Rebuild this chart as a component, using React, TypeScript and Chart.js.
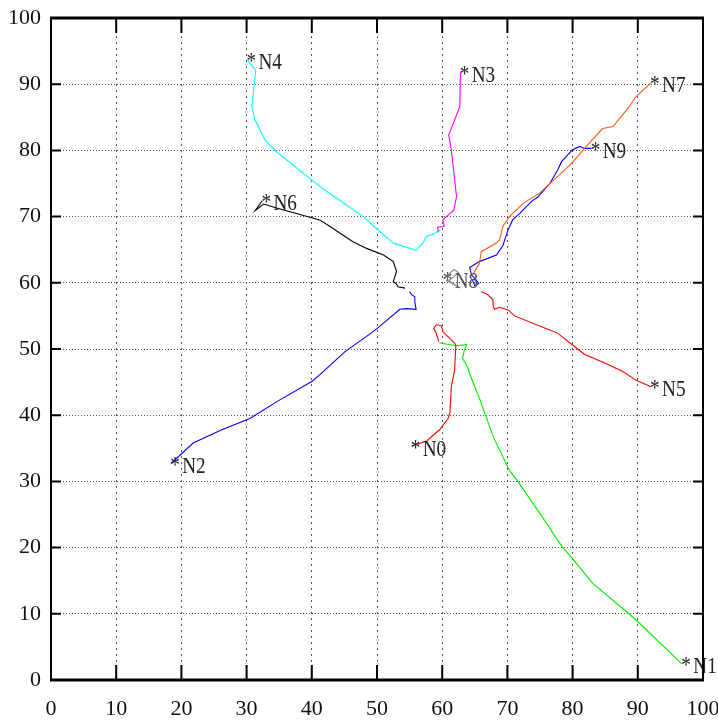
import React, { useEffect, useRef } from "react";
import { Chart, registerables } from "chart.js";

Chart.register(...registerables);

// Node names (label drawn at the first point of each track)
const nodeNames = ["N0", "N1", "N2", "N3", "N4", "N5", "N6", "N7", "N8", "N9"];
const nodeColors = ["#ff0000", "#00ee00", "#0000ff", "#ff00ff", "#00ffff", "#ff0000", "#000000", "#ff5a14", "#888888", "#0000ff"];
const labelColors = ["#222", "#222", "#222", "#222", "#222", "#222", "#222", "#222", "#555", "#222"];

const axisTicks = [0, 10, 20, 30, 40, 50, 60, 70, 80, 90, 100];

const N0 = [[55.3, 35.3], [57.6, 36.1], [59.6, 37.8], [60.9, 39.5], [61.2, 40.5], [61.4, 44.3], [61.9, 46.8], [62.1, 50.6], [61.7, 51.1], [60.1, 52.6], [59.9, 53.5], [59.1, 53.7], [58.7, 53.1], [59.0, 52.6], [59.5, 51.1]];
const N1 = [[96.8, 2.4], [89.7, 9.1], [83.1, 14.6], [79.5, 18.9], [78.5, 20.0], [77.5, 21.4], [76.2, 23.4], [71.6, 30.0], [70.3, 31.7], [67.8, 36.8], [66.0, 41.8], [64.2, 46.3], [63.9, 47.3], [63.1, 48.6], [63.4, 49.8], [63.8, 50.7], [62.2, 50.5], [59.6, 50.9]];
const N2 = [[18.4, 32.7], [21.8, 35.8], [26.2, 37.8], [30.5, 39.5], [34.9, 42.2], [40.0, 45.1], [41.2, 46.1], [45.1, 49.6], [48.4, 51.9], [49.9, 53.0], [51.0, 53.9], [53.5, 56.0], [54.5, 56.1], [56.0, 56.0], [55.8, 57.1], [55.8, 57.9], [55.3, 58.2], [55.0, 58.7]];
const N3 = [[62.8, 91.8], [62.7, 86.6], [61.0, 82.3], [61.4, 80.1], [62.2, 73.0], [61.8, 71.0], [60.1, 69.5], [60.3, 68.5], [59.3, 68.4], [59.4, 67.6]];
const N4 = [[30.1, 93.7], [31.4, 92.1], [30.8, 86.6], [31.3, 84.6], [32.8, 81.6], [34.6, 79.8], [40.0, 75.5], [42.3, 73.8], [47.9, 70.0], [49.9, 68.2], [52.5, 66.0], [56.0, 64.9], [57.1, 66.1], [57.6, 67.0], [58.9, 67.5], [59.7, 68.0]];
const N5 = [[92.0, 44.3], [89.7, 45.3], [87.7, 46.6], [85.1, 47.8], [81.8, 49.2], [80.0, 50.6], [77.7, 52.4], [75.9, 53.1], [71.1, 55.0], [70.1, 55.9], [68.8, 56.3], [68.0, 56.0], [67.8, 56.6], [67.8, 57.4], [67.0, 58.2], [66.0, 58.7]];
const N6 = [[32.4, 72.4], [31.3, 70.9], [32.6, 71.9], [34.6, 71.3], [41.2, 69.5], [42.8, 68.5], [46.3, 66.2], [48.4, 65.2], [51.0, 64.2], [52.5, 63.2], [53.0, 61.7], [52.5, 60.2], [53.0, 59.8], [53.2, 59.4], [54.3, 59.2]];
const N7 = [[92.0, 90.2], [89.7, 88.1], [88.7, 86.6], [86.2, 83.6], [84.6, 83.3], [82.1, 80.6], [79.8, 78.0], [74.9, 73.5], [72.4, 72.0], [70.3, 70.0], [69.3, 68.5], [68.8, 66.5], [68.3, 66.0], [66.0, 64.7], [65.7, 62.9], [65.0, 61.8], [64.7, 61.2]];
const N8 = [[60.2, 60.6], [61.8, 62.0], [62.5, 61.5], [61.0, 60.3], [62.8, 59.2], [60.6, 60.4]];
const N9 = [[82.9, 80.3], [81.8, 80.3], [81.1, 80.6], [80.0, 80.1], [78.3, 78.3], [77.7, 77.0], [76.5, 75.0], [74.7, 73.0], [73.7, 72.3], [71.9, 70.5], [70.8, 69.5], [70.1, 68.0], [69.6, 66.5], [69.3, 65.6], [68.3, 64.2], [65.7, 63.2], [64.2, 62.3], [64.5, 61.2], [65.2, 60.4], [65.6, 59.9], [65.0, 59.6], [64.6, 60.5]];

const tracks = [N0, N1, N2, N3, N4, N5, N6, N7, N8, N9];

const FONT = "'Liberation Serif', 'Times New Roman', serif";

const framePlugin = {
  id: "frameTicks",
  afterDraw(chart: any) {
    const { ctx, chartArea: a, scales } = chart;
    ctx.save();
    ctx.strokeStyle = "#000";
    ctx.lineWidth = 2;
    ctx.beginPath();
    axisTicks.forEach((v) => {
      const px = scales.x.getPixelForValue(v);
      ctx.moveTo(px, a.bottom);
      ctx.lineTo(px, a.bottom - 15);
      ctx.moveTo(px, a.top);
      ctx.lineTo(px, a.top + 15);
      const py = scales.y.getPixelForValue(v);
      ctx.moveTo(a.left, py);
      ctx.lineTo(a.left + 10, py);
      ctx.moveTo(a.right, py);
      ctx.lineTo(a.right - 10, py);
    });
    ctx.stroke();
    ctx.lineWidth = 3;
    ctx.beginPath();
    ctx.moveTo(a.left - 1, a.top);
    ctx.lineTo(a.right + 1, a.top);
    ctx.moveTo(a.left - 1, a.bottom);
    ctx.lineTo(a.right + 1, a.bottom);
    ctx.stroke();
    ctx.lineWidth = 2;
    ctx.beginPath();
    ctx.moveTo(a.left, a.top);
    ctx.lineTo(a.left, a.bottom);
    ctx.moveTo(a.right, a.top);
    ctx.lineTo(a.right, a.bottom);
    ctx.stroke();
    ctx.restore();
  },
};

const labelPlugin = {
  id: "nodeLabels",
  afterDatasetsDraw(chart: any) {
    const { ctx, scales } = chart;
    chart.data.datasets.forEach((ds: any, i: number) => {
      const p = ds.data[0];
      const px = scales.x.getPixelForValue(p.x);
      const py = scales.y.getPixelForValue(p.y);
      ctx.save();
      ctx.textBaseline = "middle";
      ctx.textAlign = "left";
      ctx.fillStyle = labelColors[i];
      ctx.font = `24px ${FONT}`;
      ctx.translate(px, py);
      ctx.scale(0.8, 1);
      ctx.fillText("*", -1, 2);
      ctx.fillText(nodeNames[i], 14, 3);
      ctx.restore();
    });
  },
};

export default function App() {
  const ref = useRef<HTMLCanvasElement | null>(null);
  useEffect(() => {
    if (!ref.current) return;
    const chart = new Chart(ref.current, {
      type: "scatter",
      data: {
        datasets: tracks.map((t, i) => ({
          label: nodeNames[i],
          data: t.map(([x, y]) => ({ x, y })),
          showLine: true,
          borderColor: nodeColors[i],
          backgroundColor: nodeColors[i],
          borderWidth: 1.1,
          pointRadius: 0,
          tension: 0,
        })),
      },
      options: {
        animation: false,
        responsive: false,
        events: [],
        layout: { padding: { top: 18, right: 15, left: 0, bottom: 0 } },
        plugins: { legend: { display: false }, tooltip: { enabled: false } },
        scales: {
          x: {
            type: "linear",
            min: 0,
            max: 100,
            afterFit: (s: any) => { s.height = 44; s.paddingLeft = 0; s.paddingRight = 0; },
            afterBuildTicks: (s: any) => { s.ticks = axisTicks.map((v) => ({ value: v })); },
            ticks: { color: "#111", padding: 16, maxRotation: 0, font: { family: FONT, size: 22 } },
            grid: { color: "#555", lineWidth: 1, drawTicks: false },
            border: { display: false, dash: [2, 4] },
          },
          y: {
            type: "linear",
            min: 0,
            max: 100,
            afterFit: (s: any) => { s.width = 51; s.paddingTop = 0; s.paddingBottom = 0; },
            afterBuildTicks: (s: any) => { s.ticks = axisTicks.map((v) => ({ value: v })); },
            ticks: { color: "#111", padding: 10, font: { family: FONT, size: 22 } },
            grid: { color: "#555", lineWidth: 1, drawTicks: false },
            border: { display: false, dash: [1, 2] },
          },
        },
      },
      plugins: [labelPlugin, framePlugin],
    });
    return () => chart.destroy();
  }, []);
  return (
    <div style={{ position: "absolute", left: 0, top: 0, width: 718, height: 724, background: "#fff" }}>
      <canvas ref={ref} width={718} height={724} style={{ display: "block" }} />
    </div>
  );
}
